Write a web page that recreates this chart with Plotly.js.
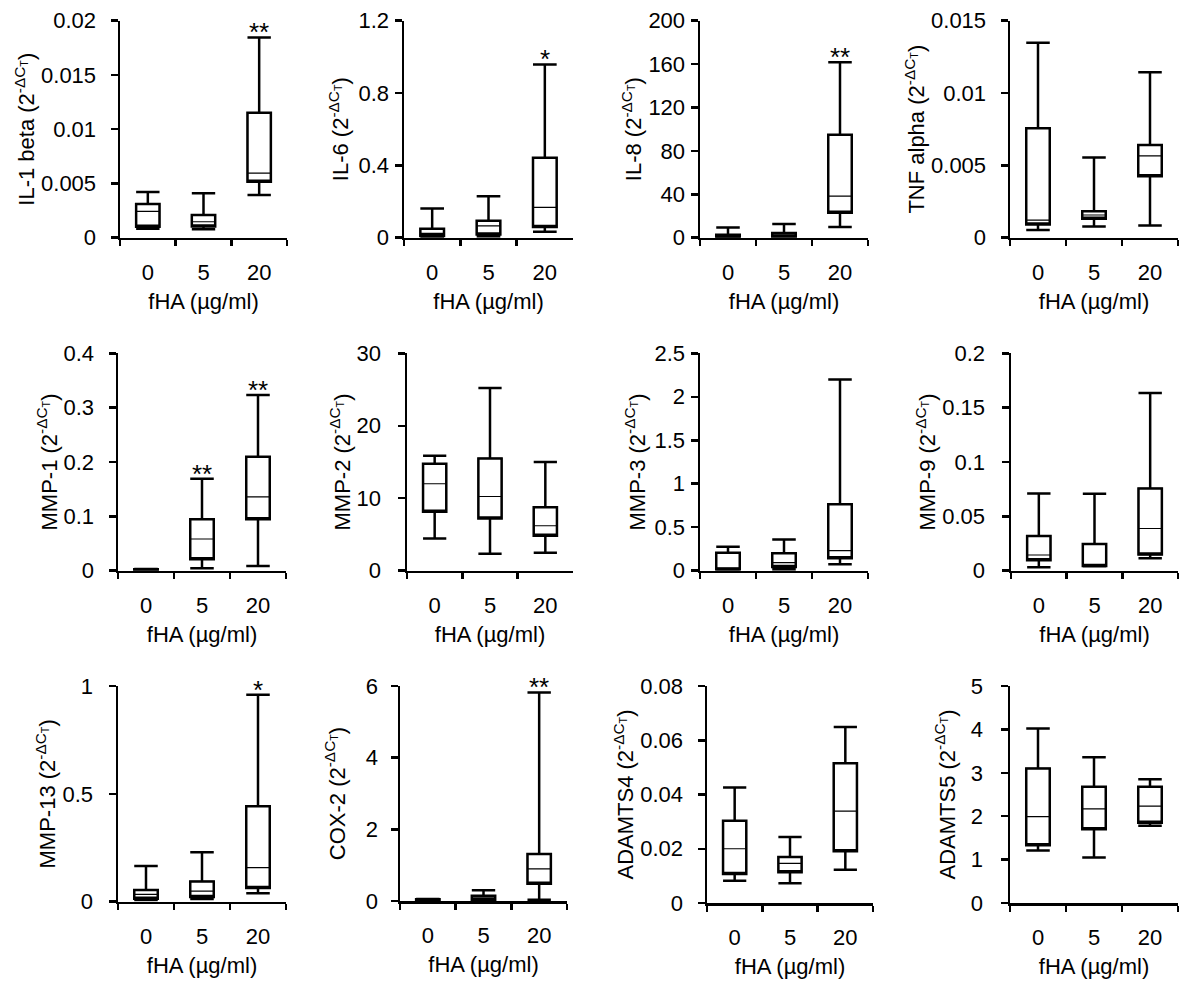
<!DOCTYPE html>
<html>
<head>
<meta charset="utf-8">
<script src="https://cdn.plot.ly/plotly-3.0.1.min.js"></script>
<style>html,body{margin:0;padding:0;background:#fff;}</style>
</head>
<body>
<div id="chart" style="width:1200px;height:997px;"></div>
<script>
// ---- data ----
const genes = ["IL-1 beta","IL-6","IL-8","TNF alpha","MMP-1","MMP-2","MMP-3","MMP-9","MMP-13","COX-2","ADAMTS4","ADAMTS5"];
const doses = ["0","5","20"];
const lowerWhisker = [
  [0.00083,0.00077,0.00393],
  [0.002,0.006,0.033],
  [0.3,0.3,9.8],
  [0.00053,0.00078,0.00085],
  [0.001,0.0043,0.0086],
  [4.46,2.34,2.48],
  [0.008,0.015,0.073],
  [0.0031,0.004,0.0114],
  [0.008,0.012,0.039],
  [0.01,0.01,0.037],
  [0.0082,0.0073,0.0123],
  [1.21,1.05,1.78]
];
const q1 = [
  [0.00101,0.00104,0.00516],
  [0.009,0.018,0.059],
  [0.6,0.9,23],
  [0.00092,0.00131,0.00424],
  [0.0015,0.0209,0.0945],
  [8.13,7.21,4.82],
  [0.015,0.042,0.142],
  [0.0095,0.0043,0.0148],
  [0.014,0.022,0.063],
  [0.019,0.037,0.484],
  [0.0107,0.0113,0.0191],
  [1.33,1.70,1.85]
];
const median = [
  [0.00243,0.00147,0.00596],
  [0.024,0.065,0.168],
  [1.5,2.5,38.4],
  [0.00122,0.00157,0.00565],
  [0.002,0.0583,0.136],
  [12.0,10.24,6.2],
  [0.027,0.092,0.23],
  [0.01446,0.0052,0.0388],
  [0.034,0.049,0.158],
  [0.037,0.084,0.894],
  [0.02,0.0146,0.0339],
  [1.99,2.17,2.23]
];
const q3 = [
  [0.0031,0.00209,0.01152],
  [0.05,0.094,0.442],
  [2.8,4.3,94.9],
  [0.00756,0.00182,0.0064],
  [0.0025,0.0945,0.2098],
  [14.75,15.5,8.77],
  [0.207,0.2,0.763],
  [0.032,0.0246,0.0757],
  [0.054,0.094,0.442],
  [0.047,0.149,1.31],
  [0.0303,0.017,0.0515],
  [3.10,2.68,2.68]
];
const upperWhisker = [
  [0.00421,0.00409,0.01846],
  [0.162,0.229,0.958],
  [9.5,12.6,161.6],
  [0.01348,0.00555,0.01143],
  [0.003,0.169,0.3233],
  [15.85,25.2,15.0],
  [0.276,0.36,2.2],
  [0.0711,0.0708,0.1634],
  [0.165,0.229,0.96],
  [0.056,0.298,5.82],
  [0.0426,0.0243,0.0649],
  [4.02,3.36,2.85]
];
const yMax  = [0.02,1.2,200,0.015,0.4,30,2.5,0.2,1,6,0.08,5];
const yStep = [0.005,0.4,40,0.005,0.1,10,0.5,0.05,0.5,2,0.02,1];
const stars = [
  ["","","**"],["","","*"],["","","**"],["","",""],
  ["","**","**"],["","",""],["","",""],["","",""],
  ["","","*"],["","","**"],["","",""],["","",""]
];
const xTitle = "fHA (µg/ml)";
const yUnit = " (2<sup>-ΔC<sub>T</sub></sup>)";

// ---- layout geometry (pixels) ----
const W = 1200, H = 997;
const xPix = [[120,287],[404,573],[700,868],[1010,1178],
              [118,286],[407,573],[700,868],[1011,1178],
              [118,286],[400,567],[707,873],[1010,1178]];
const yPix = [[20.7,237.7],[20.7,237.7],[20.7,237.7],[20.7,237.7],
              [353.3,570.7],[353.3,570.7],[353.3,570.7],[353.3,570.7],
              [686,901.7],[686,901],[686,903],[686,903]];
const yLabelGap = [10,1,1,10,10,12,1,12,11,8,10,13];

const FONT = 'Liberation Sans, Arial, Helvetica, sans-serif';
const LW = 2.5;
const traces = [];
const layout = {
  width: W, height: H,
  margin: {l:0, r:0, t:0, b:0},
  showlegend: false,
  paper_bgcolor: '#fff', plot_bgcolor: '#fff',
  font: {family: FONT, size: 22, color: '#000'},
  boxgap: 0.4,
  boxmode: 'overlay',
  annotations: []
};

for (let i = 0; i < genes.length; i++) {
  const n = i + 1;
  const sfx = n === 1 ? '' : String(n);
  const xa = 'x' + sfx, ya = 'y' + sfx;
  layout['xaxis' + sfx] = {
    domain: [xPix[i][0] / W, xPix[i][1] / W],
    anchor: ya,
    type: 'category',
    range: [-0.5, 2.5],
    tickson: 'boundaries',
    ticks: 'outside', ticklen: 6, tickwidth: LW, tickcolor: '#000',
    ticklabelstandoff: 13,
    showline: true, linewidth: LW, linecolor: '#000',
    showgrid: false, zeroline: false,
    tickfont: {size: 22, family: FONT, color: '#000'},
    title: {text: xTitle, standoff: 10, font: {size: 22, family: FONT, color: '#000'}},
    fixedrange: true
  };
  layout['yaxis' + sfx] = {
    domain: [1 - yPix[i][1] / H, 1 - yPix[i][0] / H],
    anchor: xa,
    range: [0, yMax[i]],
    tick0: 0, dtick: yStep[i],
    ticks: 'outside', ticklen: 7, tickwidth: LW, tickcolor: '#000',
    ticklabelstandoff: yLabelGap[i],
    showline: true, linewidth: LW, linecolor: '#000',
    showgrid: false, zeroline: false,
    tickfont: {size: 22, family: FONT, color: '#000'},
    title: {text: genes[i] + yUnit, font: {size: 22, family: FONT, color: '#000'}},
    fixedrange: true
  };
  // box outline + whiskers
  traces.push({
    type: 'box', x: doses, xaxis: xa, yaxis: ya,
    q1: q1[i], median: q1[i], q3: q3[i],
    lowerfence: lowerWhisker[i], upperfence: upperWhisker[i],
    line: {color: '#000', width: LW}, fillcolor: '#fff',
    whiskerwidth: 1, boxpoints: false, hoverinfo: 'skip'
  });
  // thin median line
  traces.push({
    type: 'box', x: doses, xaxis: xa, yaxis: ya,
    q1: q1[i], median: median[i], q3: q3[i],
    lowerfence: q1[i], upperfence: q3[i],
    line: {color: '#000', width: 1.2}, fillcolor: 'rgba(0,0,0,0)',
    whiskerwidth: 0, boxpoints: false, hoverinfo: 'skip'
  });
  for (let j = 0; j < doses.length; j++) {
    if (stars[i][j]) {
      layout.annotations.push({
        xref: xa, yref: ya, x: j, y: upperWhisker[i][j],
        text: stars[i][j], showarrow: false,
        yanchor: 'bottom', yshift: -12,
        font: {size: 26, family: FONT, color: '#000'}
      });
    }
  }
}

Plotly.newPlot('chart', traces, layout, {displayModeBar: false, staticPlot: true});
</script>
</body>
</html>
